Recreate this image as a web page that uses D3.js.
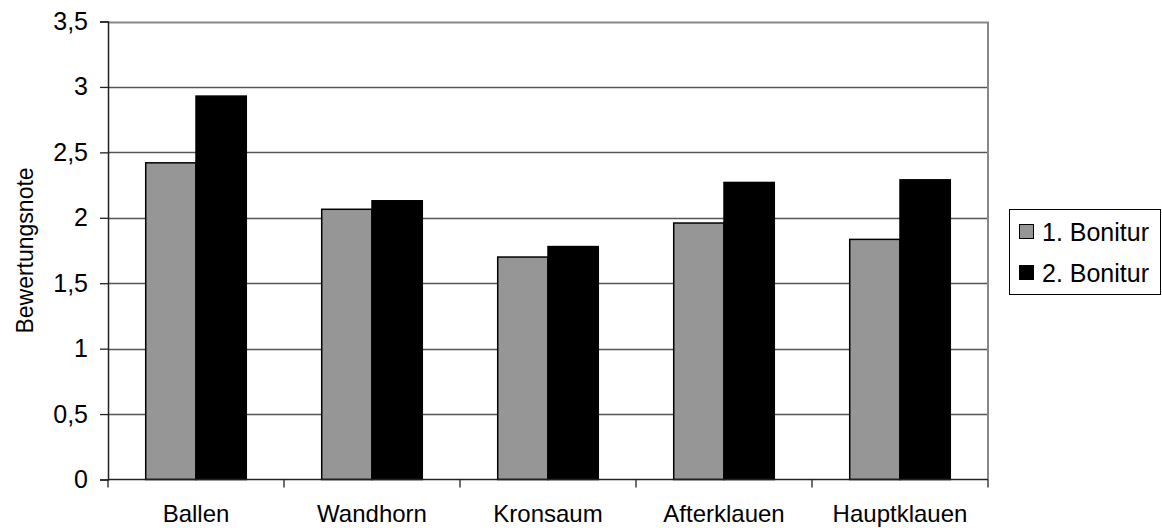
<!DOCTYPE html>
<html>
<head>
<meta charset="utf-8">
<script src="https://cdn.jsdelivr.net/npm/d3@7"></script>
<style>
  html, body { margin: 0; padding: 0; background: #fff; }
  svg { display: block; font-family: "Liberation Sans", Arial, Helvetica, sans-serif; }
</style>
</head>
<body>
<svg id="chart" width="1162" height="528"></svg>
<script>
// Klauenbewertung: mittlere Bewertungsnote je Klauenbereich, zwei Bonituren
const categories = ["Ballen", "Wandhorn", "Kronsaum", "Afterklauen", "Hauptklauen"];
const seriesNames = ["1. Bonitur", "2. Bonitur"];
const bonitur1 = [2.42, 2.065, 1.70, 1.96, 1.835];
const bonitur2 = [2.93, 2.13, 1.78, 2.27, 2.29];
const yTicks = [0, 0.5, 1, 1.5, 2, 2.5, 3, 3.5];
const yTickLabels = ["0", "0,5", "1", "1,5", "2", "2,5", "3", "3,5"];
const seriesColors = ["#969696", "#000000"];

const svg = d3.select("#chart");
const plot = { left: 108, right: 988, top: 21.5, bottom: 479.5 };
const fontSize = 25;

const x = d3.scaleBand().domain(categories).range([plot.left, plot.right]).padding(0);
// gap width 150 % of one bar on each category
const xs = d3.scaleBand().domain(seriesNames).range([0, x.bandwidth()])
  .paddingInner(0).paddingOuter(0.75);
const y = d3.scaleLinear().domain([0, 3.5]).range([plot.bottom, plot.top]);

// horizontal gridlines
svg.append("g")
  .selectAll("line")
  .data(yTicks.filter(t => t > 0 && t < 3.5))
  .join("line")
  .attr("x1", plot.left).attr("x2", plot.right)
  .attr("y1", d => Math.round(y(d)) + 0.5).attr("y2", d => Math.round(y(d)) + 0.5)
  .attr("stroke", "#555").attr("stroke-width", 1.3);

// plot area frame: top and right edges
svg.append("path")
  .attr("d", `M${plot.left},${Math.round(plot.top) + 0.5}H${plot.right}V${plot.bottom}`)
  .attr("fill", "none").attr("stroke", "#888").attr("stroke-width", 2);

// bars
const rows = categories.map((c, i) => ({ cat: c, vals: [bonitur1[i], bonitur2[i]] }));
const groups = svg.append("g").selectAll("g")
  .data(rows).join("g")
  .attr("transform", d => `translate(${x(d.cat)},0)`);
groups.selectAll("rect")
  .data(d => d.vals.map((v, j) => ({ v, s: seriesNames[j], j })))
  .join("rect")
  .attr("x", d => xs(d.s))
  .attr("y", d => y(d.v))
  .attr("width", xs.bandwidth())
  .attr("height", d => y(0) - y(d.v))
  .attr("fill", d => seriesColors[d.j])
  .attr("stroke", "#000").attr("stroke-width", 1.5);

// y axis
const yAxis = d3.axisLeft(y).tickValues(yTicks)
  .tickFormat((d, i) => yTickLabels[i]).tickSize(8).tickPadding(12);
const gy = svg.append("g").attr("transform", `translate(${plot.left},0)`).call(yAxis);
gy.select(".domain").attr("stroke", "#222").attr("stroke-width", 1.5);
gy.selectAll(".tick line").attr("stroke", "#222").attr("stroke-width", 1.3);
gy.selectAll(".tick text").attr("font-size", fontSize).attr("fill", "#000")
  .attr("font-family", "Liberation Sans, Arial, sans-serif");

// x axis: tick marks on category boundaries, labels centred under categories
const gx = svg.append("g").attr("transform", `translate(0,${plot.bottom})`);
gx.append("line").attr("x1", plot.left).attr("x2", plot.right)
  .attr("stroke", "#222").attr("stroke-width", 1.5);
const boundaries = categories.map(c => x(c)).concat([plot.right]);
gx.selectAll("line.tick").data(boundaries).join("line").attr("class", "tick")
  .attr("x1", d => d).attr("x2", d => d).attr("y1", 0).attr("y2", 8)
  .attr("stroke", "#222").attr("stroke-width", 1.3);
gx.selectAll("text").data(categories).join("text")
  .attr("x", d => x(d) + x.bandwidth() / 2).attr("y", 42.5)
  .attr("text-anchor", "middle").attr("font-size", 24).attr("fill", "#000")
  .text(d => d);

// y axis title
svg.append("text")
  .attr("transform", `translate(33,${(plot.top + plot.bottom) / 2}) rotate(-90)`)
  .attr("text-anchor", "middle").attr("font-size", 23).attr("fill", "#000")
  .text("Bewertungsnote");

// legend
const lg = svg.append("g").attr("transform", "translate(1009,209)");
lg.append("rect").attr("x", 0.5).attr("y", 0.5).attr("width", 151).attr("height", 85)
  .attr("fill", "#fff").attr("stroke", "#000").attr("stroke-width", 1);
const items = lg.selectAll("g.item").data(seriesNames).join("g").attr("class", "item")
  .attr("transform", (d, i) => `translate(10,${22.5 + i * 41})`);
items.append("rect").attr("x", 0.5).attr("y", -7).attr("width", 14).attr("height", 14)
  .attr("fill", (d, i) => seriesColors[i]).attr("stroke", "#000").attr("stroke-width", 1);
items.append("text").attr("x", 23).attr("y", 0).attr("dy", "0.36em")
  .attr("font-size", fontSize).attr("fill", "#000").text(d => d);
</script>
</body>
</html>
